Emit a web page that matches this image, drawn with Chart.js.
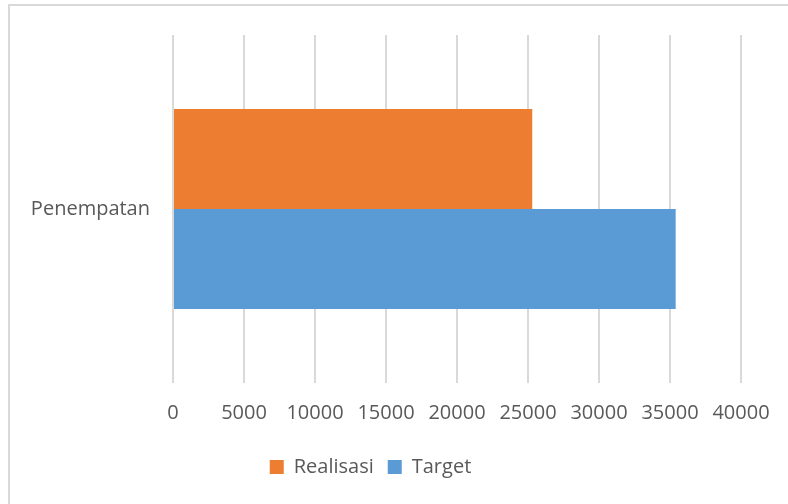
<!DOCTYPE html>
<html>
<head>
<meta charset="utf-8">
<script src="https://cdn.jsdelivr.net/npm/chart.js@4/dist/chart.umd.min.js"></script>
<style>
  html, body { margin: 0; padding: 0; background: #fff; overflow: hidden; }
  #wrap { position: relative; width: 788px; height: 504px; }
  #frame { position: absolute; left: 8px; top: 4px; width: 820px; height: 540px; border: 2px solid #d9d9d9; box-sizing: border-box; }
  canvas { position: absolute; left: 0; top: 0; }
</style>
</head>
<body>
<div id="wrap">
  <div id="frame"></div>
  <canvas id="chart" width="788" height="504"></canvas>
</div>
<script>
// data
const categories = ['Penempatan'];
const realisasi = [25300];
const target = [35400];
const xTicks = { min: 0, max: 40000, step: 5000 };

const font = { family: "'Open Sans', 'Liberation Sans', sans-serif", size: 20 };
const textColor = '#595959';

const ctx = document.getElementById('chart');
new Chart(ctx, {
  type: 'bar',
  data: {
    labels: categories,
    datasets: [
      { label: 'Realisasi', data: realisasi, backgroundColor: '#ED7D31', categoryPercentage: 0.574, barPercentage: 1 },
      { label: 'Target', data: target, backgroundColor: '#5B9BD5', categoryPercentage: 0.574, barPercentage: 1 },
    ],
  },
  options: {
    indexAxis: 'y',
    responsive: false,
    animation: false,
    layout: { padding: { top: 33, right: 47, left: 0, bottom: 17 } },
    scales: {
      x: {
        min: xTicks.min,
        max: xTicks.max,
        ticks: {
          stepSize: xTicks.step, color: textColor, font: font, padding: 18, maxRotation: 0,
          callback: (v) => String(v), // plain numbers, no thousands separator
        },
        grid: { color: '#d9d9d9', lineWidth: 2, drawTicks: false },
        border: { display: false },
        afterFit: (scale) => { scale.height = 60; },
      },
      y: {
        ticks: { color: textColor, font: font, padding: 23 },
        grid: { display: false, drawTicks: false },
        border: { display: false },
        afterFit: (scale) => { scale.width = 173; },
      },
    },
    plugins: {
      legend: {
        position: 'bottom',
        labels: { color: textColor, font: font, boxWidth: 14, boxHeight: 14, padding: 14 },
      },
      tooltip: { enabled: false },
    },
  },
});
</script>
</body>
</html>
